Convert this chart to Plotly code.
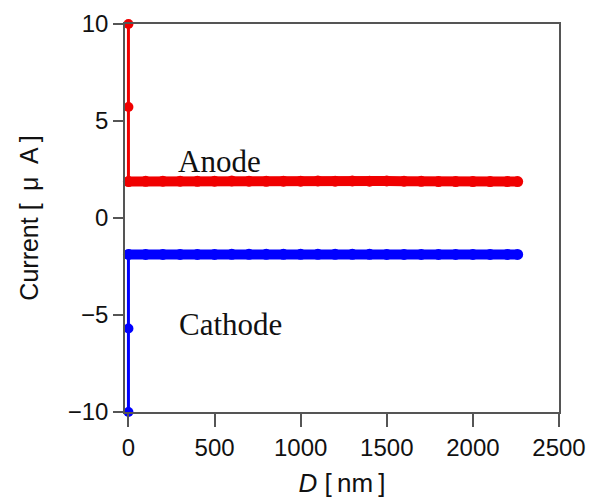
import plotly.graph_objects as go

# ---- data ----
anode_sweep_D = [0, 0, 0]
anode_sweep_I = [10.0, 5.72, 1.88]
cathode_sweep_D = [0, 0, 0]
cathode_sweep_I = [-10.0, -5.7, -1.88]

steady_D = [0, 100, 200, 300, 400, 500, 600, 700, 800, 900, 1000, 1100,
            1200, 1300, 1400, 1500, 1600, 1700, 1800, 1900, 2000, 2100, 2200, 2260]
anode_steady_I = [1.88, 1.89, 1.90, 1.90, 1.89, 1.90, 1.91, 1.90, 1.89, 1.90, 1.90, 1.91,
                  1.90, 1.91, 1.90, 1.91, 1.90, 1.89, 1.88, 1.88, 1.88, 1.88, 1.88, 1.88]
cathode_steady_I = [-1.88, -1.88, -1.88, -1.88, -1.88, -1.88, -1.87, -1.87, -1.87, -1.87, -1.87, -1.87,
                    -1.87, -1.87, -1.87, -1.88, -1.88, -1.88, -1.88, -1.88, -1.88, -1.88, -1.88, -1.88]

x_ticks = [0, 500, 1000, 1500, 2000, 2500]
y_ticks = [-10, -5, 0, 5, 10]
y_ticktext = ["\u221210", "\u22125", "0", "5", "10"]

RED = "#f00000"
BLUE = "#0000ff"

fig = go.Figure()
for D, I, c in [(anode_sweep_D, anode_sweep_I, RED), (cathode_sweep_D, cathode_sweep_I, BLUE)]:
    fig.add_trace(go.Scatter(x=D, y=I, mode="lines+markers", cliponaxis=False,
                             line=dict(color=c, width=3),
                             marker=dict(color=c, size=10), showlegend=False))
for I, c in [(anode_steady_I, RED), (cathode_steady_I, BLUE)]:
    fig.add_trace(go.Scatter(x=steady_D, y=I, mode="lines+markers", cliponaxis=False,
                             line=dict(color=c, width=10),
                             marker=dict(color=c, size=11), showlegend=False))

fig.add_annotation(x=531, y=2.9, xref="x", yref="y", text="Anode", showarrow=False,
                   font=dict(family="Liberation Serif", size=31, color="#111"))
fig.add_annotation(x=590, y=-5.5, xref="x", yref="y", text="Cathode", showarrow=False,
                   font=dict(family="Liberation Serif", size=31, color="#111"))

axis_common = dict(showgrid=False, zeroline=False, showline=True, mirror=True,
                   linecolor="#555", linewidth=1.5, ticks="outside", tickcolor="#555",
                   tickwidth=1.5, automargin=False,
                   tickfont=dict(family="Liberation Sans", size=24, color="#111"))

fig.update_xaxes(range=[-20, 2500], tickvals=x_ticks, ticklen=13,
                 title=dict(text="<i>D</i> [\u2009nm\u2009]", standoff=14,
                            font=dict(family="Liberation Sans", size=26, color="#111")),
                 **axis_common)
fig.update_yaxes(range=[-10, 10], tickvals=y_ticks, ticktext=y_ticktext, ticklen=10,
                 title=dict(text="Current [\u2002μ\u2002A\u2009]",
                            standoff=22,
                            font=dict(family="Liberation Sans", size=25, color="#111")),
                 **axis_common)

fig.update_layout(width=590, height=500, margin=dict(l=125, r=31, t=24, b=88),
                  plot_bgcolor="white", paper_bgcolor="white")

fig.write_html("out.html")
